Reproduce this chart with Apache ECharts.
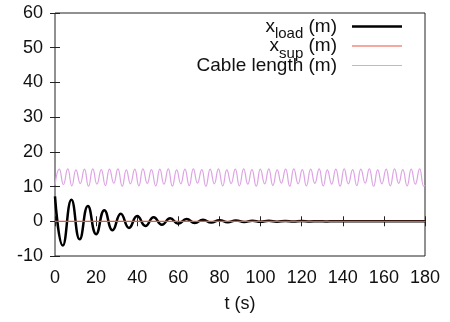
<!DOCTYPE html>
<html>
<head>
<meta charset="utf-8">
<script src="https://cdn.jsdelivr.net/npm/echarts@6/dist/echarts.min.js"></script>
<style>
  html, body { margin: 0; padding: 0; background: #fff; }
  #chart { width: 450px; height: 322px; }
</style>
</head>
<body>
<div id="chart"></div>
<script>
// x_load: damped swing, read at its peaks and troughs
const loadT = [0, 3.8, 8, 12, 16, 20, 24, 28, 32, 36, 40, 44, 48, 52, 56, 60, 64, 68, 72, 76, 80, 84, 88, 92, 96, 100, 104, 108, 112, 116, 120, 124, 128, 132, 136, 140, 180];
const loadX = [7.2, -7.0, 6.2, -5.2, 4.4, -3.7, 3.2, -2.6, 2.2, -1.9, 1.5, -1.35, 1.15, -1.0, 0.85, -0.7, 0.65, -0.5, 0.45, -0.38, 0.33, -0.28, 0.25, -0.2, 0.18, -0.15, 0.13, -0.1, 0.09, -0.07, 0.06, -0.05, 0.04, -0.03, 0.02, 0, 0];

// x_sup stays on zero
const supT = [0, 180];
const supX = [0, 0];

// cable length, read at its peaks and troughs
const cableT = [0, 2.1, 4.1, 6.2, 8.2, 10.2, 12.3, 14.3, 16.3, 18.4, 20.4, 22.5, 24.5, 26.5, 28.6, 30.6, 32.7, 34.7, 36.7, 38.8, 40.8, 42.8, 44.9, 46.9, 49.0, 51.0, 53.0, 55.1, 57.1, 59.2, 61.2, 63.2, 65.3, 67.3, 69.3, 71.4, 73.4, 75.5, 77.5, 79.5, 81.6, 83.6, 85.7, 87.7, 89.7, 91.8, 93.8, 95.8, 97.9, 99.9, 102.0, 104.0, 106.0, 108.1, 110.1, 112.2, 114.2, 116.2, 118.3, 120.3, 122.3, 124.4, 126.4, 128.5, 130.5, 132.5, 134.6, 136.6, 138.7, 140.7, 142.7, 144.8, 146.8, 148.8, 150.9, 152.9, 155.0, 157.0, 159.0, 161.1, 163.1, 165.2, 167.2, 169.2, 171.3, 173.3, 175.3, 177.4, 179.4, 180];
const cableL = [10.5, 15.0, 10.6, 15.1, 10.2, 14.8, 10.9, 15.0, 10.1, 15.1, 10.7, 14.9, 10.3, 15.0, 11.0, 15.1, 10.1, 14.8, 10.8, 15.0, 10.2, 15.1, 10.9, 14.9, 10.2, 15.0, 10.7, 15.1, 10.1, 14.8, 10.8, 15.0, 10.3, 15.1, 11.0, 14.9, 10.1, 15.0, 10.8, 15.1, 10.2, 14.8, 10.9, 15.0, 10.2, 15.1, 10.7, 14.9, 10.1, 15.0, 10.8, 15.1, 10.3, 14.8, 11.0, 15.0, 10.1, 15.1, 10.8, 14.9, 10.2, 15.0, 10.9, 15.1, 10.2, 14.8, 10.7, 15.0, 10.1, 15.1, 10.8, 14.9, 10.3, 15.0, 11.0, 15.1, 10.1, 14.8, 10.8, 15.0, 10.2, 15.1, 10.9, 14.9, 10.2, 15.0, 10.7, 15.1, 10.1, 10.4];

const xTicks = [0, 180, 20];
const yTicks = [-10, 60, 10];

const FONT = "Liberation Sans";
const BLACK = "#000";
const RED = "#e8553f";
const PINK = "#dda3e4";
const pairs = (ts, vs) => ts.map((t, i) => [t, vs[i]]);

const chart = echarts.init(document.getElementById("chart"), null, { renderer: "canvas" });

const frameTick = { show: true, inside: true, length: 5, lineStyle: { color: "#222" } };

chart.setOption({
  animation: false,
  backgroundColor: "#fff",
  grid: { left: 55, right: 25, top: 13, bottom: 66, show: true, borderColor: "#222", borderWidth: 1 },
  legend: {
    orient: "vertical",
    right: 48,
    top: 17,
    padding: 0,
    align: "right",
    itemGap: -5,
    itemWidth: 50,
    itemHeight: 14,
    selectedMode: false,
    data: [
      { name: "load", icon: "path://M0 0H50V2.5H0Z" },
      { name: "sup", icon: "path://M0 0H50V1.2H0Z" },
      { name: "cable", icon: "path://M0 0H50V1.2H0Z" },
    ],
    formatter: (name) => ({
      load: "{m|x}{s|load}{m| (m)}",
      sup: "{m|x}{s|sup}{m| (m)}",
      cable: "{m|Cable length (m)}",
    })[name],
    textStyle: {
      padding: [0, 10, 0, 0],
      rich: {
        m: { fontFamily: FONT, fontSize: 19, color: "#111", lineHeight: 30 },
        s: { fontFamily: FONT, fontSize: 15, color: "#111", verticalAlign: "bottom" },
      },
    },
  },
  xAxis: [
    {
      type: "value",
      min: xTicks[0], max: xTicks[1], interval: xTicks[2],
      name: "t (s)",
      nameLocation: "middle",
      nameGap: 39,
      nameTextStyle: { fontFamily: FONT, fontSize: 18, color: "#111" },
      axisLine: { show: false },
      axisTick: frameTick,
      splitLine: { show: false },
      axisLabel: { fontFamily: FONT, fontSize: 18, color: "#111", margin: 13 },
    },
    {
      type: "value", position: "top",
      min: xTicks[0], max: xTicks[1], interval: xTicks[2],
      axisLine: { show: false }, axisTick: frameTick, axisLabel: { show: false }, splitLine: { show: false },
    },
  ],
  yAxis: [
    {
      type: "value",
      min: yTicks[0], max: yTicks[1], interval: yTicks[2],
      axisLine: { show: false },
      axisTick: frameTick,
      splitLine: { show: false },
      axisLabel: { fontFamily: FONT, fontSize: 18, color: "#111", margin: 12 },
    },
    {
      type: "value", position: "right",
      min: yTicks[0], max: yTicks[1], interval: yTicks[2],
      axisLine: { show: false }, axisTick: frameTick, axisLabel: { show: false }, splitLine: { show: false },
    },
  ],
  series: [
    {
      name: "load", type: "line", smooth: true, symbol: "none",
      data: pairs(loadT, loadX),
      lineStyle: { color: BLACK, width: 2.5 },
      itemStyle: { color: BLACK },
      z: 2,
    },
    {
      name: "sup", type: "line", symbol: "none",
      data: pairs(supT, supX),
      lineStyle: { color: RED, width: 1.2 },
      itemStyle: { color: RED },
      z: 3,
    },
    {
      name: "cable", type: "line", smooth: true, symbol: "none",
      data: pairs(cableT, cableL),
      lineStyle: { color: PINK, width: 1.2 },
      itemStyle: { color: PINK },
      z: 4,
    },
  ],
});
</script>
</body>
</html>
